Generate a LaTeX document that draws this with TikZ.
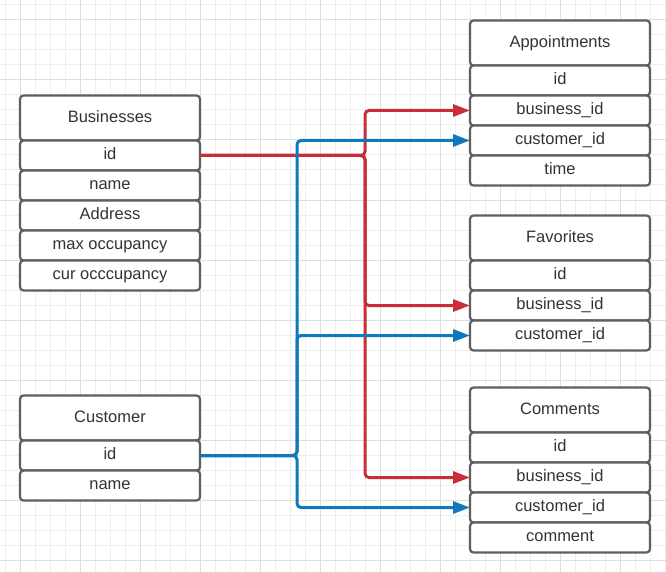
\documentclass[tikz,border=0pt]{standalone}
\usepackage{fontspec}
\setmainfont{Liberation Sans}
\usetikzlibrary{arrows.meta}
\definecolor{gridminor}{HTML}{EEEEEE}
\definecolor{gridmajor}{HTML}{DEDEDE}
\definecolor{boxgray}{HTML}{5E5E5E}
\definecolor{txtgray}{HTML}{333333}
\definecolor{relred}{HTML}{C92D39}
\definecolor{relblue}{HTML}{0F79BE}
\tikzset{
  field/.style={draw=boxgray, line width=2.2pt, rounded corners=3.5pt, fill=white,
    minimum width=180pt, minimum height=30pt, inner sep=0pt, outer sep=0pt,
    text height=12pt, text depth=3.5pt,
    text=txtgray, font=\fontsize{16.5}{20}\selectfont},
  titlebox/.style={field, minimum height=45pt},
  relline/.style={line width=3pt, rounded corners=4pt, -{Triangle[length=17pt,width=12pt]}},
  redrel/.style={relline, draw=relred, color=relred},
  bluerel/.style={relline, draw=relblue, color=relblue}
}
\begin{document}
\begin{tikzpicture}[x=1pt,y=-1pt]
\useasboundingbox (0,0) rectangle (666,572);
\fill[white] (0,0) rectangle (666,572);
% grid
\foreach \i in {5,20,...,665} \draw[gridminor, line width=1pt] (\i,0) -- (\i,572);
\foreach \j in {5,20,...,570} \draw[gridminor, line width=1pt] (0,\j) -- (666,\j);
\foreach \i in {20,80,...,665} \draw[gridmajor, line width=1pt] (\i,0) -- (\i,572);
\foreach \j in {20,80,...,570} \draw[gridmajor, line width=1pt] (0,\j) -- (666,\j);

% Businesses
\node[titlebox] (bt) at (110,118) {Businesses};
\node[field] (bid) at (110,155.5) {id};
\node[field] (bname) at (110,185.5) {name};
\node[field] (baddr) at (110,215.5) {Address};
\node[field] (bmax) at (110,245.5) {max occupancy};
\node[field] (bcur) at (110,275.5) {cur occcupancy};

% Customer
\node[titlebox] (ct) at (110,418) {Customer};
\node[field] (cid) at (110,455.5) {id};
\node[field] (cname) at (110,485.5) {name};

% Appointments
\node[titlebox] (at) at (560,43) {Appointments};
\node[field] (aid) at (560,80.5) {id};
\node[field] (abus) at (560,110.5) {business\_id};
\node[field] (acus) at (560,140.5) {customer\_id};
\node[field] (atime) at (560,170.5) {time};

% Favorites
\node[titlebox] (ft) at (560,238) {Favorites};
\node[field] (fid) at (560,275.5) {id};
\node[field] (fbus) at (560,305.5) {business\_id};
\node[field] (fcus) at (560,335.5) {customer\_id};

% Comments
\node[titlebox] (mt) at (560,410) {Comments};
\node[field] (mid) at (560,447.5) {id};
\node[field] (mbus) at (560,477.5) {business\_id};
\node[field] (mcus) at (560,507.5) {customer\_id};
\node[field] (mcom) at (560,537.5) {comment};

% junctions
\coordinate (jr) at (365,155.5);
\coordinate (jb) at (297,455.5);

% red relations
\draw[redrel] (bid.east) -- (jr) |- (abus.west);
\draw[redrel] (bid.east) -- (jr) |- (fbus.west);
\draw[redrel] (bid.east) -- (jr) |- (mbus.west);

% blue relations
\draw[bluerel] (cid.east) -- (jb) |- (acus.west);
\draw[bluerel] (cid.east) -- (jb) |- (fcus.west);
\draw[bluerel] (cid.east) -- (jb) |- (mcus.west);
\end{tikzpicture}
\end{document}
